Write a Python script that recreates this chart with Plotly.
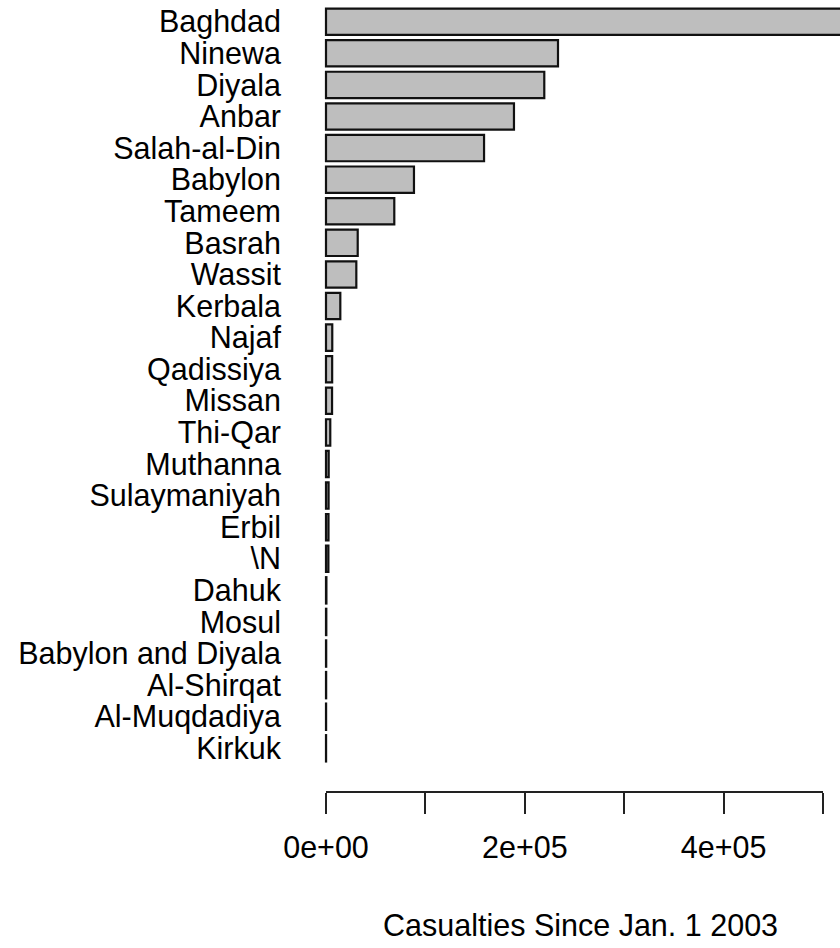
import plotly.graph_objects as go

# Casualties by province, listed from largest to smallest
provinces = [
    "Baghdad", "Ninewa", "Diyala", "Anbar", "Salah-al-Din", "Babylon",
    "Tameem", "Basrah", "Wassit", "Kerbala", "Najaf", "Qadissiya",
    "Missan", "Thi-Qar", "Muthanna", "Sulaymaniyah", "Erbil", "\\N",
    "Dahuk", "Mosul", "Babylon and Diyala", "Al-Shirqat", "Al-Muqdadiya",
    "Kirkuk",
]
casualties = [
    560000, 233400, 219600, 189100, 159000, 88500,
    68700, 31900, 30500, 14400, 6300, 6200,
    6100, 4300, 2700, 2600, 2500, 2400,
    400, 300, 200, 150, 100, 80,
]

# x-axis ticks every 1e5, labelled every 2e5
tick_values = [0, 100000, 200000, 300000, 400000, 500000]
tick_labels = ["0e+00", "", "2e+05", "", "4e+05", ""]

FONT = "Arial, Liberation Sans, sans-serif"
SIZE = 30.5

fig = go.Figure(
    go.Bar(
        x=casualties,
        y=provinces,
        orientation="h",
        marker=dict(color="#bebebe", line=dict(color="#111111", width=2.2)),
        hoverinfo="x+y",
    )
)

n = len(provinces)
fig.update_layout(
    width=840,
    height=948,
    margin=dict(l=300, r=0, t=0, b=156),
    plot_bgcolor="white",
    paper_bgcolor="white",
    bargap=0.167,
    showlegend=False,
    font=dict(family=FONT, size=SIZE, color="black"),
    xaxis=dict(
        range=[-26157, 517100],
        tickmode="array",
        tickvals=tick_values,
        ticktext=tick_labels,
        ticks="outside",
        ticklen=21,
        tickwidth=2,
        tickcolor="#222222",
        ticklabelstandoff=7,
        showline=False,
        showgrid=False,
        zeroline=False,
        tickfont=dict(family=FONT, size=SIZE, color="black"),
    ),
    yaxis=dict(
        categoryorder="array",
        categoryarray=provinces[::-1],
        tickmode="array",
        tickvals=provinces,
        ticktext=provinces,
        range=[-1.383, n - 1 + 0.687],
        ticks="",
        showline=False,
        showgrid=False,
        zeroline=False,
        ticklabelstandoff=18,
        tickfont=dict(family=FONT, size=SIZE, color="black"),
    ),
    shapes=[
        # axis line spanning only the labelled tick range
        dict(
            type="line", xref="x", yref="paper",
            x0=tick_values[0], x1=tick_values[-1], y0=0, y1=0,
            line=dict(color="#222222", width=2),
        )
    ],
    annotations=[
        dict(
            text="Casualties Since Jan. 1 2003",
            xref="paper", yref="paper",
            x=0.52, y=-0.168,
            xanchor="center", yanchor="middle",
            showarrow=False,
            font=dict(family=FONT, size=SIZE, color="black"),
        )
    ],
)

fig.write_html("out.html")
